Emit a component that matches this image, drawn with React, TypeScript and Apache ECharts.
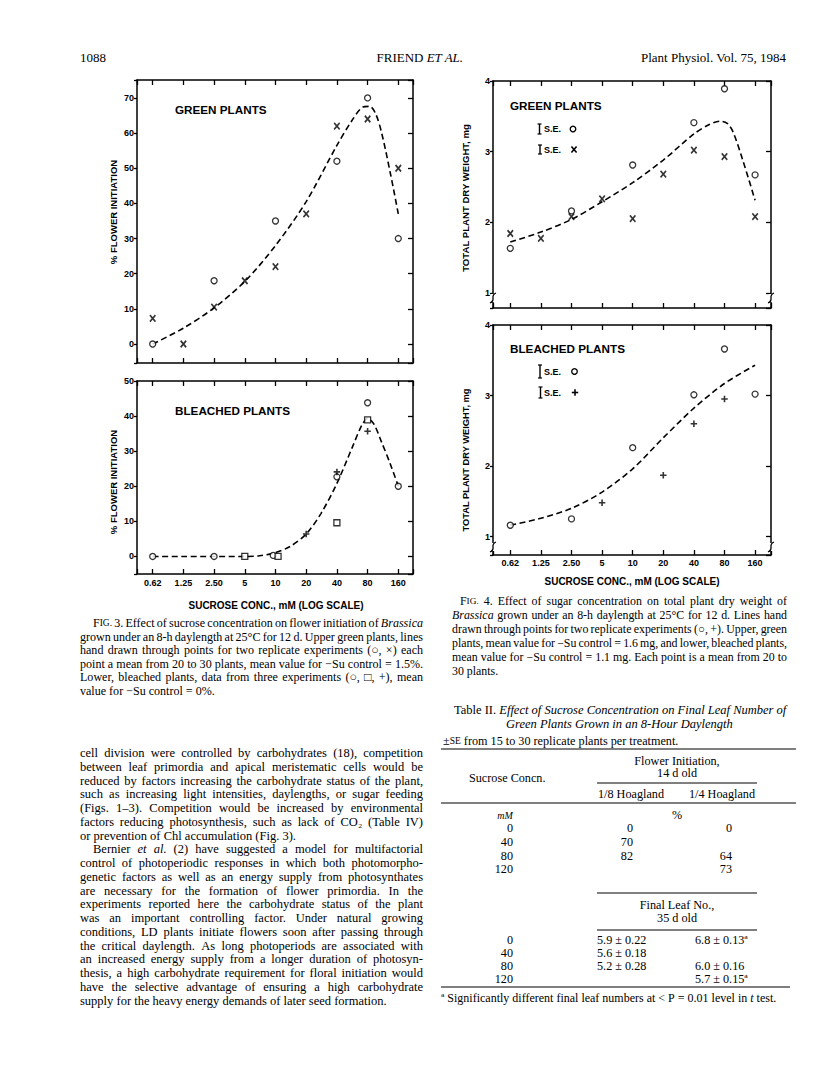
import React, { useEffect, useRef } from "react";
import * as echarts from "echarts";

// ---------------- data ----------------
const tickLabels = ["0.62", "1.25", "2.50", "5", "10", "20", "40", "80", "160"];
const BASE_CONC = 0.625;

// Fig. 3 upper: green plants, % flower initiation
const f3GreenCircle = [[0.625, 0], [2.5, 18], [10, 35], [40, 52], [80, 70], [160, 30]];
const f3GreenCross = [[0.625, 7.3], [1.25, 0], [2.5, 10.5], [5, 18], [10, 22], [20, 37], [40, 62], [80, 64], [160, 50]];
const f3GreenCurve = [[0.625, 0], [1.25, 4.5], [2.5, 10.3], [5, 17.8], [10, 28], [20, 40.5], [40, 56.5], [56, 63.5], [72, 67.4], [84, 67.6], [96, 65.5], [110, 60], [135, 48], [160, 37]];

// Fig. 3 lower: bleached plants
const f3BleachCircle = [[0.625, 0], [2.5, 0], [9.5, 0.3], [40, 22.7], [80, 43.8], [160, 20]];
const f3BleachSquare = [[5, 0], [10.6, 0], [40, 9.6], [80, 38.9]];
const f3BleachPlus = [[20, 6.4], [40, 24.1], [80, 35.7]];
const f3BleachCurve = [[0.625, 0], [1.25, 0], [2.5, 0], [5, 0], [7, 0.2], [10, 1.1], [14, 2.9], [20, 6.4], [28, 12.3], [40, 20.8], [57, 31.3], [70, 37.3], [80, 39.3], [92, 37.8], [110, 32.5], [133, 26.5], [160, 20]];

// Fig. 4 upper: green plants, total dry weight (mg)
const f4GreenCircle = [[0.625, 1.63], [2.5, 2.16], [10, 2.81], [40, 3.41], [80, 3.89], [160, 2.67]];
const f4GreenCross = [[0.625, 1.84], [1.25, 1.77], [2.5, 2.08], [5, 2.33], [10, 2.05], [20, 2.68], [40, 3.02], [80, 2.93], [160, 2.08]];
const f4GreenCurve = [[0.625, 1.72], [1.25, 1.86], [2.5, 2.04], [5, 2.29], [10, 2.56], [20, 2.88], [40, 3.25], [56, 3.38], [72, 3.43], [85, 3.4], [97, 3.28], [121, 2.88], [160, 2.31]];

// Fig. 4 lower: bleached plants
const f4BleachCircle = [[0.625, 1.16], [2.5, 1.25], [10, 2.26], [40, 3.01], [80, 3.66], [160, 3.02]];
const f4BleachPlus = [[5, 1.48], [20, 1.87], [40, 2.6], [80, 2.95]];
const f4BleachCurve = [[0.625, 1.16], [1.25, 1.26], [2.5, 1.4], [5, 1.63], [10, 1.96], [20, 2.4], [40, 2.82], [80, 3.17], [160, 3.43]];

// Table II
const tableSucrose = ["0", "40", "80", "120"];
const flowerEighth = ["0", "70", "82", ""];
const flowerQuarter = ["0", "", "64", "73"];
const leafEighth = ["5.9 ± 0.22", "5.6 ± 0.18", "5.2 ± 0.28", ""];
const leafQuarter = ["6.8 ± 0.13ª", "", "6.0 ± 0.16", "5.7 ± 0.15ª"];

// Text
const fig3Caption = [
  { text: "^FIG. 3. Effect of sucrose concentration on flower initiation of _Brassica_", indent: 13 },
  { text: "grown under an 8-h daylength at 25°C for 12 d. Upper green plants, lines" },
  { text: "hand drawn through points for two replicate experiments (○, ×) each" },
  { text: "point a mean from 20 to 30 plants, mean value for −Su control = 1.5%." },
  { text: "Lower, bleached plants, data from three experiments (○, □, +), mean" },
  { text: "value for −Su control = 0%.", last: true },
];
const fig4Caption = [
  { text: "^FIG. 4. Effect of sugar concentration on total plant dry weight of", indent: 8 },
  { text: "_Brassica_ grown under an 8-h daylength at 25°C for 12 d. Lines hand" },
  { text: "drawn through points for two replicate experiments (○, +). Upper, green" },
  { text: "plants, mean value for −Su control = 1.6 mg, and lower, bleached plants," },
  { text: "mean value for −Su control = 1.1 mg. Each point is a mean from 20 to" },
  { text: "30 plants.", last: true },
];
const bodyText = [
  { text: "cell division were controlled by carbohydrates (18), competition" },
  { text: "between leaf primordia and apical meristematic cells would be" },
  { text: "reduced by factors increasing the carbohydrate status of the plant," },
  { text: "such as increasing light intensities, daylengths, or sugar feeding" },
  { text: "(Figs. 1–3). Competition would be increased by environmental" },
  { text: "factors reducing photosynthesis, such as lack of CO₂ (Table IV)" },
  { text: "or prevention of Chl accumulation (Fig. 3).", last: true },
  { text: "Bernier _et_ _al._ (2) have suggested a model for multifactorial", indent: 13 },
  { text: "control of photoperiodic responses in which both photomorpho-" },
  { text: "genetic factors as well as an energy supply from photosynthates" },
  { text: "are necessary for the formation of flower primordia. In the" },
  { text: "experiments reported here the carbohydrate status of the plant" },
  { text: "was an important controlling factor. Under natural growing" },
  { text: "conditions, LD plants initiate flowers soon after passing through" },
  { text: "the critical daylength. As long photoperiods are associated with" },
  { text: "an increased energy supply from a longer duration of photosyn-" },
  { text: "thesis, a high carbohydrate requirement for floral initiation would" },
  { text: "have the selective advantage of ensuring a high carbohydrate" },
  { text: "supply for the heavy energy demands of later seed formation.", last: true },
];

// ---------------- helpers ----------------
const SERIF = '"Liberation Serif", "Times New Roman", serif';
const SANS = '"Liberation Sans", Arial, Helvetica, sans-serif';

let ctx: CanvasRenderingContext2D | null = null;
function measure(t: string, size: number, italic = false, weight = "normal", family = SERIF) {
  if (!ctx) ctx = document.createElement("canvas").getContext("2d");
  ctx!.font = `${italic ? "italic" : "normal"} ${weight} ${size}px ${family}`;
  return ctx!.measureText(t).width;
}

function textEl(text: string, x: number, y: number, o: any = {}) {
  return {
    type: "text",
    x,
    y,
    rotation: o.rot || 0,
    z: 100,
    silent: true,
    style: {
      text,
      x: 0,
      y: 0,
      fill: "#000",
      fontSize: o.size || 12,
      fontFamily: o.family || SERIF,
      fontWeight: o.weight || "normal",
      fontStyle: o.italic ? "italic" : "normal",
      align: o.align || "left",
      verticalAlign: "middle",
      textAlign: o.align || "left",
      textVerticalAlign: "middle",
    },
  };
}

function lineEl(x1: number, y1: number, x2: number, y2: number, w = 1) {
  return { type: "line", z: 100, silent: true, shape: { x1, y1, x2, y2 }, style: { stroke: "#000", lineWidth: w } };
}

type Part = { t: string; size: number; italic: boolean };
function tokParts(w: string, size: number): Part[] {
  if (w.startsWith("^")) {
    const s = w.slice(1);
    return [{ t: s[0], size, italic: false }, { t: s.slice(1), size: size * 0.78, italic: false }];
  }
  if (w.length > 2 && w.startsWith("_") && w.endsWith("_")) return [{ t: w.slice(1, -1), size, italic: true }];
  return [{ t: w, size, italic: false }];
}
function tokWidth(w: string, size: number) {
  return tokParts(w, size).reduce((a, p) => a + measure(p.t, p.size, p.italic), 0);
}
function drawTok(out: any[], w: string, x: number, y: number, size: number) {
  let cx = x;
  tokParts(w, size).forEach((p) => {
    out.push(textEl(p.t, cx, y, { size: p.size, italic: p.italic }));
    cx += measure(p.t, p.size, p.italic);
  });
}

type PLine = { text: string; indent?: number; last?: boolean };
function paragraph(out: any[], lines: PLine[], x0: number, x1: number, y0: number, lh: number, base: number) {
  let size = base;
  lines.forEach((l) => {
    if (l.last) return;
    const toks = l.text.split(" ").filter(Boolean);
    const sum = toks.reduce((a, w) => a + tokWidth(w, base), 0);
    const need = sum + 0.18 * base * (toks.length - 1);
    const avail = x1 - x0 - (l.indent || 0);
    if (need > avail) size = Math.min(size, (base * avail) / need);
  });
  lines.forEach((l, i) => {
    const toks = l.text.split(" ").filter(Boolean);
    const ws = toks.map((w) => tokWidth(w, size));
    const sum = ws.reduce((a, b) => a + b, 0);
    const left = x0 + (l.indent || 0);
    let gap = measure(" ", size);
    if (!l.last && toks.length > 1) gap = (x1 - left - sum) / (toks.length - 1);
    let x = left;
    const y = y0 + i * lh;
    toks.forEach((w, j) => {
      drawTok(out, w, x, y, size);
      x += ws[j] + gap;
    });
  });
}

const pos = (c: number) => Math.log2(c / BASE_CONC);
const toXY = (arr: number[][]) => arr.map(([c, v]) => [pos(c), v]);

function buildOption() {
  const panels = [
    { left: 137, top: 80, width: 276, height: 283, x: [-0.511, 8.479], y: [-5.4, 75.1], step: 10, split: 8, xLabels: false, xMargin: 4, yMin: 0 },
    { left: 137, top: 381, width: 276, height: 193, x: [-0.511, 8.479], y: [-5, 50], step: 10, split: 5, xLabels: true, xMargin: 4, yMin: 0 },
    { left: 493, top: 81, width: 278, height: 227, x: [-0.565, 8.52], y: [0.785, 4], step: 1, split: 3, xLabels: false, xMargin: 3, yMin: 1 },
    { left: 493, top: 325, width: 278, height: 230, x: [-0.565, 8.52], y: [0.738, 4], step: 1, split: 3, xLabels: true, xMargin: 3, yMin: 1 },
  ];
  const axisLine = { show: true, onZero: false, lineStyle: { color: "#000", width: 1.5 } };
  const axisTick = { show: true, inside: true, length: 5, lineStyle: { color: "#000", width: 1.3 } };
  const axisTickOut = { show: true, inside: false, length: 3, lineStyle: { color: "#000", width: 1.3 } };
  const lbl = { color: "#000", fontFamily: SANS, fontWeight: "bold", fontSize: 9 };
  const xFmt = (v: number) => {
    const r = Math.round(v);
    return Math.abs(v - r) < 1e-6 && r >= 0 && r < tickLabels.length ? tickLabels[r] : "";
  };

  const grid: any[] = [];
  const xAxis: any[] = [];
  const yAxis: any[] = [];
  panels.forEach((p, i) => {
    grid.push({ left: p.left, top: p.top, width: p.width, height: p.height, containLabel: false, outerBoundsMode: "none", show: false });
    const xBase = { type: "value", gridIndex: i, min: p.x[0], max: p.x[1], splitNumber: 9, minInterval: 1, maxInterval: 1, axisLine, axisTick, splitLine: { show: false } };
    xAxis.push({ ...xBase, position: "bottom", axisLabel: { show: p.xLabels, margin: p.xMargin, formatter: xFmt, ...lbl } });
    xAxis.push({ ...xBase, position: "top", axisLabel: { show: false } });
    const yFmt = (v: number) => {
      const r = Math.round(v);
      return Math.abs(v - r) < 1e-6 && r >= p.yMin ? String(r) : "";
    };
    const yBase = { type: "value", gridIndex: i, min: p.y[0], max: p.y[1], splitNumber: p.split, minInterval: p.step, maxInterval: p.step, axisLine, splitLine: { show: false } };
    yAxis.push({ ...yBase, position: "left", axisTick: axisTickOut, axisLabel: { show: true, margin: 3, formatter: yFmt, ...lbl } });
    yAxis.push({ ...yBase, position: "right", axisTick, axisLabel: { show: false } });
  });

  const sym: any = {
    circle: { symbol: "circle", symbolSize: 6, itemStyle: { color: "#fff", borderColor: "#000", borderWidth: 1.3 } },
    cross: { symbol: "path://M0,0L10,12M10,0L0,12", symbolSize: [5.5, 6.5], itemStyle: { color: "rgba(0,0,0,0)", borderColor: "#000", borderWidth: 1.7 } },
    plus: { symbol: "path://M5,0L5,10M0,5L10,5", symbolSize: 6.5, itemStyle: { color: "rgba(0,0,0,0)", borderColor: "#000", borderWidth: 1.6 } },
    square: { symbol: "rect", symbolSize: 6, itemStyle: { color: "#fff", borderColor: "#000", borderWidth: 1.3 } },
  };
  const scatter = (gi: number, data: number[][], kind: string) => ({
    type: "scatter", xAxisIndex: gi * 2, yAxisIndex: gi * 2, data: toXY(data), z: 4, silent: true, ...sym[kind],
  });
  const curve = (gi: number, data: number[][]) => ({
    type: "line", xAxisIndex: gi * 2, yAxisIndex: gi * 2, data: toXY(data), showSymbol: false, symbol: "none", smooth: 0.3, z: 3, silent: true,
    lineStyle: { color: "#000", width: 1.6, type: [6, 3.5] },
  });

  const series = [
    curve(0, f3GreenCurve), scatter(0, f3GreenCircle, "circle"), scatter(0, f3GreenCross, "cross"),
    curve(1, f3BleachCurve), scatter(1, f3BleachCircle, "circle"), scatter(1, f3BleachSquare, "square"), scatter(1, f3BleachPlus, "plus"),
    curve(2, f4GreenCurve), scatter(2, f4GreenCircle, "circle"), scatter(2, f4GreenCross, "cross"),
    curve(3, f4BleachCurve), scatter(3, f4BleachCircle, "circle"), scatter(3, f4BleachPlus, "plus"),
  ];

  // ---------- graphic texts ----------
  const g: any[] = [];
  const sansB = (size: number) => ({ size, family: SANS, weight: "bold" });

  // running head
  g.push(textEl("1088", 80, 57, { size: 13 }));
  {
    const a = "FRIEND ";
    const b = "ET AL.";
    const wa = measure(a, 13);
    const wb = measure(b, 13, true);
    const x0 = 420 - (wa + wb) / 2;
    g.push(textEl(a, x0, 57, { size: 13 }));
    g.push(textEl(b, x0 + wa, 57, { size: 13, italic: true }));
  }
  g.push(textEl("Plant Physiol. Vol. 75, 1984", 786, 57, { size: 13, align: "right" }));

  // axis titles
  g.push(textEl("% FLOWER INITIATION", 113, 212, { ...sansB(9.5), align: "center", rot: Math.PI / 2 }));
  g.push(textEl("% FLOWER INITIATION", 113, 482, { ...sansB(9.5), align: "center", rot: Math.PI / 2 }));
  g.push(textEl("TOTAL PLANT DRY WEIGHT, mg", 465.5, 198, { ...sansB(9.6), align: "center", rot: Math.PI / 2 }));
  g.push(textEl("TOTAL PLANT DRY WEIGHT, mg", 465.5, 460, { ...sansB(9.3), align: "center", rot: Math.PI / 2 }));
  g.push(textEl("SUCROSE CONC., mM (LOG SCALE)", 276, 605, { ...sansB(10), align: "center" }));
  g.push(textEl("SUCROSE CONC., mM (LOG SCALE)", 632, 581, { ...sansB(10), align: "center" }));

  // panel labels
  g.push(textEl("GREEN PLANTS", 175, 109, sansB(11.7)));
  g.push(textEl("BLEACHED PLANTS", 175, 410, sansB(11.7)));
  g.push(textEl("GREEN PLANTS", 510, 105, sansB(11.7)));
  g.push(textEl("BLEACHED PLANTS", 510, 348, sansB(11.7)));

  // S.E. keys
  const errBar = (x: number, y1: number, y2: number) => {
    g.push(lineEl(x, y1, x, y2, 1.4));
    g.push(lineEl(x - 2, y1, x + 2, y1, 1.2));
    g.push(lineEl(x - 2, y2, x + 2, y2, 1.2));
  };
  const keyCircle = (x: number, y: number) =>
    g.push({ type: "circle", z: 100, silent: true, shape: { cx: x, cy: y, r: 2.8 }, style: { fill: "#fff", stroke: "#000", lineWidth: 1.3 } });
  const keyCross = (x: number, y: number) => {
    g.push(lineEl(x - 2.6, y - 3, x + 2.6, y + 3, 1.6));
    g.push(lineEl(x + 2.6, y - 3, x - 2.6, y + 3, 1.6));
  };
  const keyPlus = (x: number, y: number) => {
    g.push(lineEl(x, y - 3.2, x, y + 3.2, 1.6));
    g.push(lineEl(x - 3.2, y, x + 3.2, y, 1.6));
  };
  errBar(539.5, 124, 134);
  g.push(textEl("S.E.", 544, 129, sansB(9)));
  keyCircle(573, 129);
  errBar(540, 145, 154);
  g.push(textEl("S.E.", 544, 149.5, sansB(9)));
  keyCross(574, 149.5);
  errBar(540, 365, 378);
  g.push(textEl("S.E.", 544, 371.5, sansB(9)));
  keyCircle(574.5, 371.5);
  errBar(540.5, 387, 398);
  g.push(textEl("S.E.", 544, 392.5, sansB(9)));
  keyPlus(575, 392.5);

  // axis breaks on Fig. 4
  const brk = (x: number, y: number) => {
    g.push({ type: "rect", z: 99, silent: true, shape: { x: x - 2, y: y - 4, width: 4, height: 8 }, style: { fill: "#fff" } });
    g.push({ type: "bezierCurve", z: 100, silent: true, shape: { x1: x - 3, y1: y + 5, cpx1: x + 4, cpy1: y + 2, cpx2: x - 4, cpy2: y - 2, x2: x + 3, y2: y - 5 }, style: { stroke: "#000", lineWidth: 1.3, fill: "none" } });
  };
  brk(493, 298);
  brk(771, 298);
  brk(493, 547);
  brk(771, 547);

  // captions and body
  paragraph(g, fig3Caption, 80, 423, 623, 13.6, 12.2);
  paragraph(g, fig4Caption, 452, 787, 601, 13.9, 12.2);
  paragraph(g, bodyText, 80, 423, 753, 13.75, 12.5);

  // Table II
  const TS = 12.2;
  paragraph(g, [{ text: "Table II. _Effect_ _of_ _Sucrose_ _Concentration_ _on_ _Final_ _Leaf_ _Number_ _of_", last: true }], 454, 787, 710, 14, 12.5);
  paragraph(g, [{ text: "_Green_ _Plants_ _Grown_ _in_ _an_ _8-Hour_ _Daylength_", last: true }], 506, 787, 724, 14, 12.5);
  paragraph(g, [{ text: "^±SE from 15 to 30 replicate plants per treatment.", last: true }], 443, 787, 741, 14, TS);
  g.push(lineEl(441, 749, 796, 749, 1.1));
  g.push(textEl("Flower Initiation,", 677, 761, { size: TS, align: "center" }));
  g.push(textEl("14 d old", 677, 773, { size: TS, align: "center" }));
  g.push(textEl("Sucrose Concn.", 469, 778, { size: TS }));
  g.push(lineEl(597, 783, 757, 783, 1));
  g.push(textEl("1/8 Hoagland", 631, 794, { size: TS, align: "center" }));
  g.push(textEl("1/4 Hoagland", 722, 794, { size: TS, align: "center" }));
  g.push(lineEl(441, 803, 796, 803, 1.1));
  g.push(textEl("mM", 505, 815, { size: 10, italic: true, align: "center" }));
  g.push(textEl("%", 677, 815, { size: TS, align: "center" }));
  const rowY1 = [828, 842, 856, 869];
  tableSucrose.forEach((s, i) => {
    g.push(textEl(s, 513, rowY1[i], { size: TS, align: "right" }));
    if (flowerEighth[i]) g.push(textEl(flowerEighth[i], 633, rowY1[i], { size: TS, align: "right" }));
    if (flowerQuarter[i]) g.push(textEl(flowerQuarter[i], 732, rowY1[i], { size: TS, align: "right" }));
  });
  g.push(lineEl(597, 893, 757, 893, 1));
  g.push(textEl("Final Leaf No.,", 677, 905, { size: TS, align: "center" }));
  g.push(textEl("35 d old", 677, 918, { size: TS, align: "center" }));
  g.push(lineEl(597, 930, 757, 930, 1));
  const rowY2 = [940, 953, 966, 979];
  tableSucrose.forEach((s, i) => {
    g.push(textEl(s, 513, rowY2[i], { size: TS, align: "right" }));
    if (leafEighth[i]) g.push(textEl(leafEighth[i], 597, rowY2[i], { size: TS }));
    if (leafQuarter[i]) g.push(textEl(leafQuarter[i], 695, rowY2[i], { size: TS }));
  });
  g.push(lineEl(441, 987, 790, 987, 1.1));
  paragraph(g, [{ text: "ª Significantly different final leaf numbers at < P = 0.01 level in _t_ test.", last: true }], 441, 790, 998, 14, 12);

  return {
    animation: false,
    backgroundColor: "#fff",
    grid,
    xAxis,
    yAxis,
    series,
    graphic: { elements: g },
  };
}

export default function App() {
  const ref = useRef<HTMLDivElement>(null);
  useEffect(() => {
    document.body.style.margin = "0";
    const el = ref.current!;
    const chart = echarts.init(el, null, { renderer: "svg", width: 816, height: 1073 });
    chart.setOption(buildOption() as any);
    return () => chart.dispose();
  }, []);
  return <div ref={ref} style={{ width: 816, height: 1073, background: "#fff" }} />;
}
